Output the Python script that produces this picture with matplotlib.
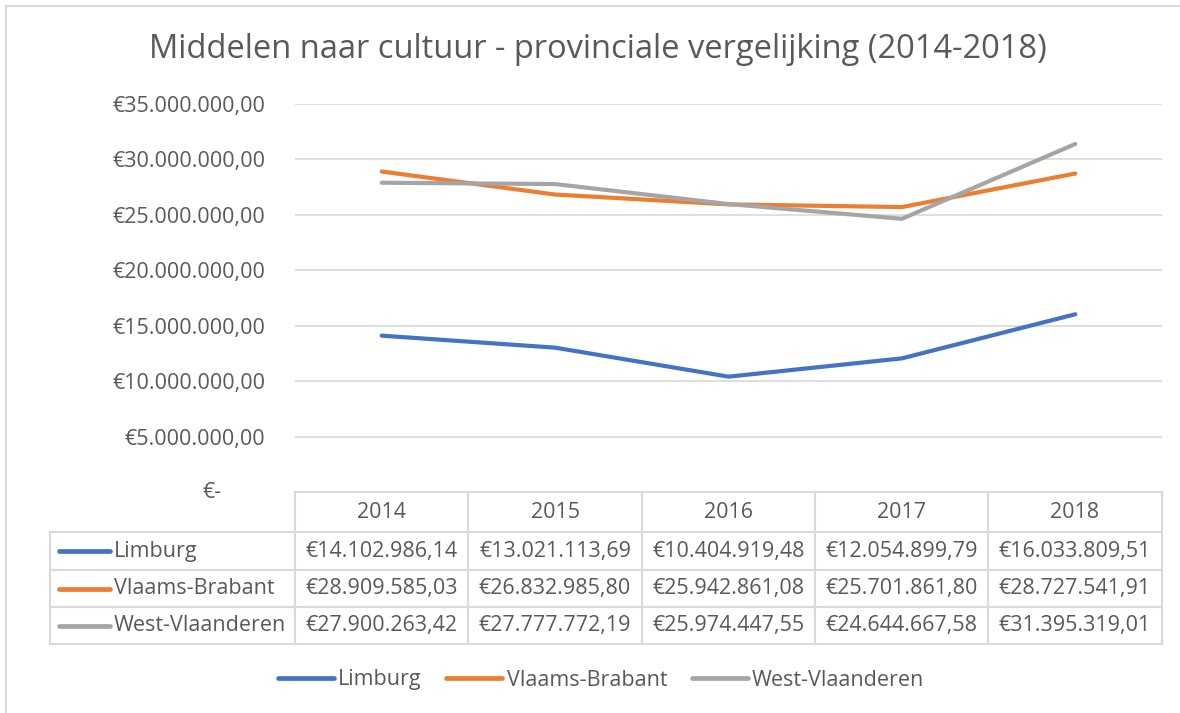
import matplotlib.pyplot as plt
from matplotlib.patches import Rectangle
from matplotlib.lines import Line2D

plt.rcParams['font.family'] = ['Open Sans', 'DejaVu Sans']

years = ['2014', '2015', '2016', '2017', '2018']
series_names = ['Limburg', 'Vlaams-Brabant', 'West-Vlaanderen']
limburg = [14102986.14, 13021113.69, 10404919.48, 12054899.79, 16033809.51]
vlaams_brabant = [28909585.03, 26832985.80, 25942861.08, 25701861.80, 28727541.91]
west_vlaanderen = [27900263.42, 27777772.19, 25974447.55, 24644667.58, 31395319.01]
colors = ['#4472C4', '#ED7D31', '#A5A5A5']
y_ticks = [0, 5e6, 10e6, 15e6, 20e6, 25e6, 30e6, 35e6]

TEXT = '#595959'
GRID = '#D9D9D9'
W, H = 1180, 713
FS = 15.5


def euro(v):
    # Dutch notation: dots for thousands, comma for decimals
    s = '{:,.2f}'.format(v)
    s = s.replace(',', '#').replace('.', ',').replace('#', '.')
    return '€' + s


def fx(px):
    return px / W


def fy(py):
    return 1 - py / H


fig = plt.figure(figsize=(W / 100, H / 100), dpi=100)

# chart border (only top and left visible in the crop)
fig.add_artist(Rectangle((fx(6), -0.1), 1.2, fy(6) + 0.1, transform=fig.transFigure,
                         fill=False, edgecolor=GRID, lw=1.5))

left, right, top, bottom = 295, 1162, 104, 492
ax = fig.add_axes([fx(left), fy(bottom), fx(right) - fx(left), fy(top) - fy(bottom)])

data = [limburg, vlaams_brabant, west_vlaanderen]
x = list(range(len(years)))
for name, vals, c in zip(series_names, data, colors):
    ax.plot(x, vals, color=c, lw=3.0, solid_capstyle='round', label=name, zorder=3)

ax.set_xlim(-0.5, len(years) - 0.5)
ax.set_ylim(0, 35e6)
ax.set_yticks(y_ticks)
ax.set_yticklabels(['' if t == 0 else euro(t) for t in y_ticks])
ax.text(-0.0845, 0, '€-', transform=ax.get_yaxis_transform(), ha='right', va='center',
        fontsize=FS, color=TEXT)
ax.tick_params(axis='y', length=0, pad=21.5, labelsize=FS, labelcolor=TEXT)
ax.set_xticks([])
ax.grid(axis='y', color=GRID, lw=1.2)
ax.set_axisbelow(True)
for s in ax.spines.values():
    s.set_visible(False)

fig.text(fx(598), fy(50), 'Middelen naar cultuur - provinciale vergelijking (2014-2018)',
         ha='center', va='center', fontsize=23.5, color=TEXT)

# data table below the plot area
row_edges = [492, 532, 570, 607, 644]
col_edges = [50, 295, 468, 642, 815, 988, 1162]


def hline(y0, x0, x1):
    fig.add_artist(Line2D([fx(x0), fx(x1)], [fy(y0), fy(y0)], color=GRID, lw=1.5))


def vline(xp, y0, y1):
    fig.add_artist(Line2D([fx(xp), fx(xp)], [fy(y0), fy(y1)], color=GRID, lw=1.5))


hline(row_edges[0], col_edges[1], col_edges[-1])
for r in row_edges[1:]:
    hline(r, col_edges[0], col_edges[-1])
for i, c in enumerate(col_edges):
    y0 = row_edges[1] if i == 0 else row_edges[0]
    vline(c, y0, row_edges[-1])

for j, yr in enumerate(years):
    cx = (col_edges[j + 1] + col_edges[j + 2]) / 2
    cy = (row_edges[0] + row_edges[1]) / 2
    fig.text(fx(cx), fy(cy), yr, ha='center', va='center', fontsize=FS, color=TEXT)

for i, (name, vals, c) in enumerate(zip(series_names, data, colors)):
    cy = (row_edges[i + 1] + row_edges[i + 2]) / 2
    fig.add_artist(Line2D([fx(59), fx(110)], [fy(cy), fy(cy)], color=c, lw=3.4,
                          solid_capstyle='round'))
    fig.text(fx(114), fy(cy), name, ha='left', va='center', fontsize=FS, color=TEXT)
    for j, v in enumerate(vals):
        cx = (col_edges[j + 1] + col_edges[j + 2]) / 2
        fig.text(fx(cx), fy(cy), euro(v), ha='center', va='center', fontsize=FS, color=TEXT)

leg = fig.legend(loc='center', bbox_to_anchor=(fx(601), fy(680)), ncol=3, frameon=False,
                 fontsize=FS, handlelength=2.6, handletextpad=0.2, columnspacing=1.15)
for t in leg.get_texts():
    t.set_color(TEXT)
for h in leg.get_lines():
    h.set_linewidth(3.4)
    h.set_solid_capstyle('round')

fig.savefig('out.png', dpi=100)
